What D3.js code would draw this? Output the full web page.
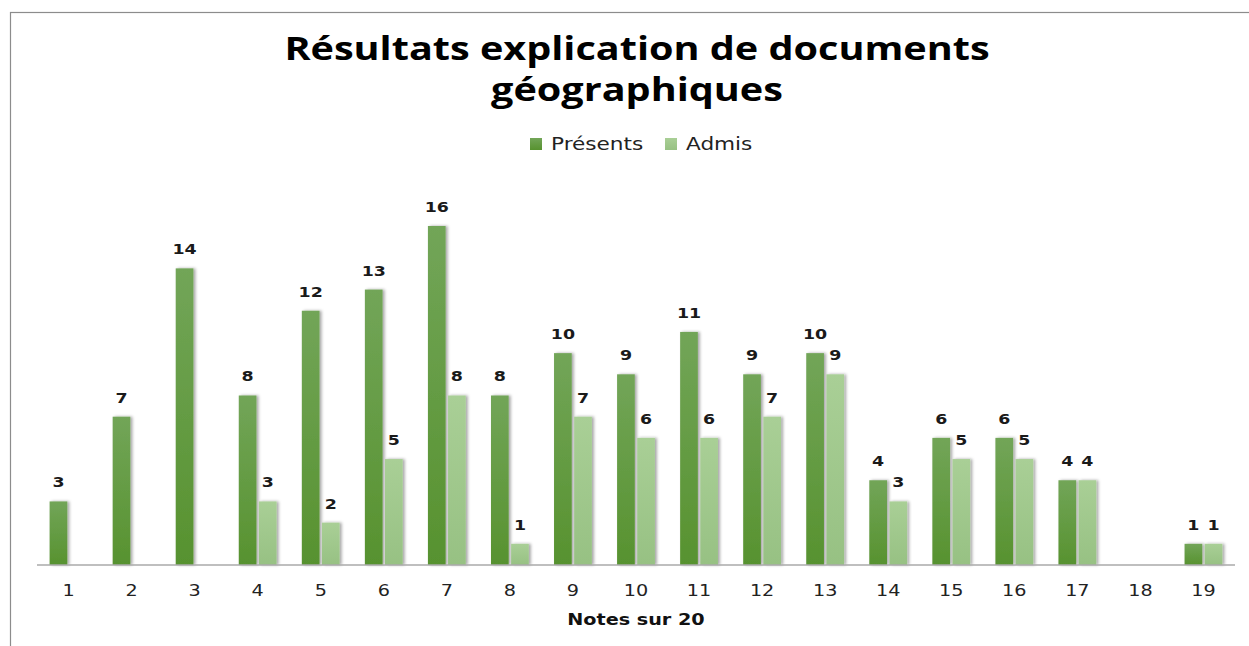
<!DOCTYPE html>
<html>
<head>
<meta charset="utf-8">
<script src="https://cdn.jsdelivr.net/npm/d3@7"></script>
<style>
  body { margin: 0; background: #fff; }
  svg { display: block; }
</style>
</head>
<body>
<svg id="chart"></svg>
<script>
'use strict'

// data
const notes = ['1','2','3','4','5','6','7','8','9','10','11','12','13','14','15','16','17','18','19']
const presents = [3, 7, 14, 8, 12, 13, 16, 8, 10, 9, 11, 9, 10, 4, 6, 6, 4, null, 1]
const admis    = [null, null, null, 3, 2, 5, 8, 1, 7, 6, 6, 7, 9, 3, 5, 5, 4, null, 1]
const seriesNames = ['Présents', 'Admis']
const titleLines = ['Résultats explication de documents', 'géographiques']
const xTitle = 'Notes sur 20'

const W = 1249, H = 646
const SX = 1.2 // the picture is a bit stretched sideways, text too
const svg = d3.select('#chart').attr('width', W).attr('height', H)

// widen a text around its own x
function stretch (sel) {
  sel.attr('transform', function () {
    const x = +d3.select(this).attr('x') || 0
    return 'translate(' + x + ',0) scale(' + SX + ',1) translate(' + (-x) + ',0)'
  })
}

// gradients + shadow like the office chart
const defs = svg.append('defs')
const grads = [['gPres', '#72a558', '#57922f'], ['gAdm', '#a9cf96', '#97c183']]
grads.forEach(([id, c1, c2]) => {
  const g = defs.append('linearGradient').attr('id', id).attr('x1', 0).attr('y1', 0).attr('x2', 0).attr('y2', 1)
  g.append('stop').attr('offset', '0%').attr('stop-color', c1)
  g.append('stop').attr('offset', '100%').attr('stop-color', c2)
})
const f = defs.append('filter').attr('id', 'shadow').attr('x', '-30%').attr('y', '-10%').attr('width', '180%').attr('height', '120%')
f.append('feDropShadow').attr('dx', 2).attr('dy', 0).attr('stdDeviation', 1.6).attr('flood-color', '#000').attr('flood-opacity', 0.35)

// outer frame (cut at right and bottom in the picture)
svg.append('rect').attr('x', 10.5).attr('y', 12.5).attr('width', 1400).attr('height', 800)
  .attr('fill', 'none').attr('stroke', '#8c8c8c').attr('stroke-width', 1.2)

// scales
const x0 = d3.scaleBand().domain(notes).range([37, 1235]).paddingInner(0.4).paddingOuter(0.2)
const x1 = d3.scaleBand().domain(seriesNames).range([0, x0.bandwidth()]).paddingInner(0.12)
const y = d3.scaleLinear().domain([0, 16]).range([565, 226])

const rows = notes.map((n, i) => ({note: n, values: [presents[i], admis[i]]}))

// bars
const group = svg.selectAll('.grp').data(rows).enter().append('g')
  .attr('class', 'grp')
  .attr('transform', d => 'translate(' + x0(d.note) + ',0)')

group.selectAll('rect')
  .data(d => d.values.map((v, k) => ({k: k, v: v})).filter(e => e.v !== null))
  .enter().append('rect')
  .attr('x', e => x1(seriesNames[e.k]))
  .attr('width', x1.bandwidth())
  .attr('y', e => y(e.v))
  .attr('height', e => y(0) - y(e.v))
  .attr('fill', e => e.k === 0 ? 'url(#gPres)' : 'url(#gAdm)')
  .attr('filter', 'url(#shadow)')

// value labels
group.selectAll('text')
  .data(d => d.values.map((v, k) => ({k: k, v: v})).filter(e => e.v !== null))
  .enter().append('text')
  .attr('x', e => x1(seriesNames[e.k]) + x1.bandwidth() / 2)
  .attr('y', e => y(e.v) - 14)
  .attr('text-anchor', 'middle')
  .style('font-family', 'DejaVu Sans, Verdana, sans-serif')
  .style('font-weight', 'bold')
  .style('font-size', '14.5px')
  .attr('fill', '#1a1a1a')
  .text(e => e.v)
  .call(stretch)

// x axis
const xAxis = svg.append('g')
  .attr('transform', 'translate(0,565)')
  .call(d3.axisBottom(x0).tickSize(0).tickPadding(20).tickSizeOuter(0))
xAxis.select('.domain').attr('stroke', '#aaaaaa').attr('stroke-width', 1.5)
  .attr('d', 'M37,0H1235')
xAxis.selectAll('text')
  .style('font-family', 'DejaVu Sans, Verdana, sans-serif')
  .style('font-size', '16px')
  .attr('fill', '#222')
  .call(stretch)

// axis title
svg.append('text')
  .attr('x', 636).attr('y', 625)
  .attr('text-anchor', 'middle')
  .style('font-family', 'DejaVu Sans, Verdana, sans-serif')
  .style('font-weight', 'bold')
  .style('font-size', '16px')
  .attr('fill', '#111')
  .text(xTitle)
  .call(stretch)

// title
svg.selectAll('.title').data(titleLines).enter().append('text')
  .attr('class', 'title')
  .attr('x', 637)
  .attr('y', (d, i) => 60 + i * 41)
  .attr('text-anchor', 'middle')
  .style('font-family', 'Open Sans, sans-serif')
  .style('font-weight', 'bold')
  .style('font-size', '33px')
  .attr('fill', '#000')
  .text(d => d)
  .call(stretch)

// legend
const legend = svg.append('g')
const legX = [530, 665]
seriesNames.forEach((name, i) => {
  legend.append('rect').attr('x', legX[i]).attr('y', 138).attr('width', 12).attr('height', 12)
    .attr('fill', i === 0 ? 'url(#gPres)' : 'url(#gAdm)')
  legend.append('text').attr('x', legX[i] + 21).attr('y', 150)
    .style('font-family', 'DejaVu Sans, Verdana, sans-serif')
    .style('font-size', '18px')
    .attr('fill', '#222')
    .text(name)
    .call(stretch)
})
</script>
</body>
</html>
